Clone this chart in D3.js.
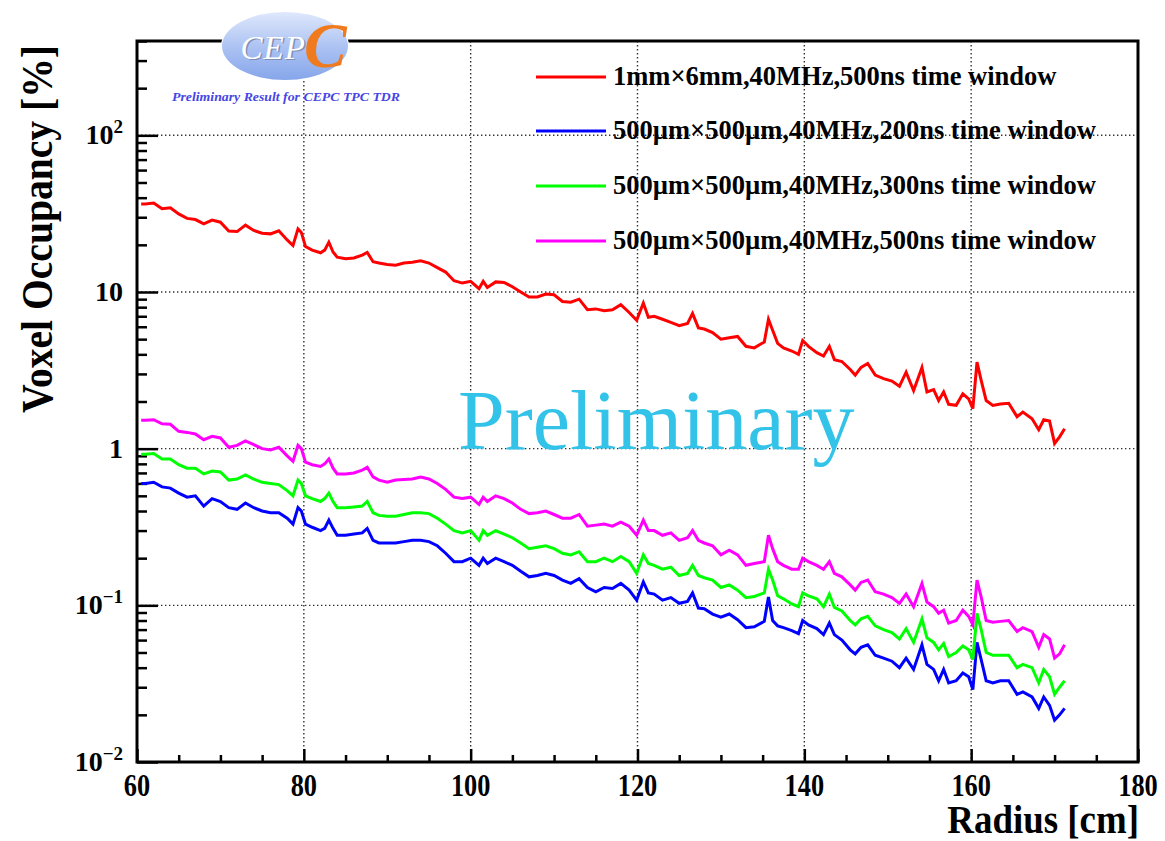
<!DOCTYPE html>
<html>
<head>
<meta charset="utf-8">
<script src="https://cdn.jsdelivr.net/npm/d3@7"></script>
<style>
  body { margin: 0; background: #fff; }
  svg { display: block; }
  text { font-family: "Liberation Serif", "DejaVu Serif", serif; }
</style>
</head>
<body>
<svg id="chart" width="1165" height="841"></svg>
<script>
// radius bins [cm], shared by all four curves
const radius = [60.5,61,62,63,64,65,66,67,68,69,70,71,72,73,74,75,76,77,78,78.7,79.3,79.7,80.2,81,82,82.5,83,83.5,84,85,86,87,87.6,88.3,89,90,91,92,93,94,95,96,97,98,99,100,101,101.5,102,103,104,105,106,107,108,109,110,111,112,113,114,115,116,117,118,119,119.9,120.7,121.3,122,123,124,125,126,126.6,127.3,128,129,130,131,132,133,134,135.2,135.7,136.2,136.8,137.5,138.5,139.3,139.8,140.5,141.5,142.3,143,143.6,144.5,145.5,146.1,146.8,147.6,148.5,149.5,150.5,151.4,152.2,153.1,154.1,154.7,155.5,156.1,156.7,157.3,158.2,159,159.7,160.2,160.7,161.2,161.8,162.6,163.5,164.5,165.5,166.2,167.3,168.1,168.7,169.4,170,170.6,171.2];

// voxel occupancy [%]
const red_1x6_500 = [36.5,36.5,37,34,34.5,31.5,29.5,29,27.2,28.8,27.9,24.5,24.3,26.7,24.7,23.7,23.5,24.6,21.5,19.8,25.3,24,19.5,18.5,17.8,18.5,20.8,18,16.7,16.3,16.5,17.2,17.9,15.6,15.3,15,14.8,15.3,15.5,15.8,15.3,14.3,13.4,11.8,11.4,11.7,10.5,11.7,10.7,11.6,11.5,10.8,10,9.3,9.3,9.7,9.6,8.7,8.6,9.0,7.7,7.8,7.6,7.7,8.3,7.4,6.6,8.5,6.9,7.0,6.7,6.4,6.1,6.3,7.3,5.9,5.8,5.5,5.0,5.1,5.2,4.5,4.4,4.8,6.7,5.7,4.7,4.4,4.2,4.0,4.9,4.5,4.1,3.9,4.5,3.7,3.6,3.2,2.95,3.3,3.5,2.95,2.8,2.7,2.5,3.08,2.35,3.3,2.3,2.38,2.03,2.3,1.92,1.89,2.24,2.08,1.8,3.57,2.73,2.03,1.89,1.93,1.95,1.6,1.71,1.55,1.32,1.53,1.5,1.08,1.19,1.34];
const blue_500_200 = [0.60,0.60,0.61,0.57,0.56,0.52,0.49,0.50,0.43,0.48,0.46,0.42,0.41,0.45,0.42,0.40,0.39,0.39,0.36,0.33,0.42,0.40,0.33,0.315,0.30,0.31,0.35,0.31,0.28,0.28,0.285,0.29,0.31,0.26,0.25,0.25,0.25,0.255,0.26,0.26,0.255,0.24,0.215,0.19,0.19,0.20,0.18,0.20,0.185,0.20,0.19,0.18,0.165,0.152,0.155,0.16,0.155,0.145,0.138,0.148,0.13,0.122,0.13,0.128,0.138,0.125,0.108,0.141,0.12,0.118,0.108,0.112,0.103,0.106,0.12,0.096,0.095,0.088,0.084,0.088,0.081,0.072,0.073,0.079,0.113,0.08,0.074,0.072,0.069,0.066,0.08,0.075,0.071,0.065,0.077,0.065,0.06,0.052,0.049,0.054,0.056,0.048,0.046,0.044,0.040,0.046,0.039,0.056,0.042,0.039,0.033,0.039,0.032,0.033,0.037,0.035,0.029,0.058,0.045,0.033,0.032,0.033,0.033,0.027,0.028,0.026,0.022,0.026,0.023,0.0185,0.020,0.022];
const green_500_300 = [0.92,0.92,0.93,0.86,0.86,0.79,0.75,0.75,0.69,0.72,0.71,0.63,0.64,0.68,0.64,0.61,0.60,0.59,0.54,0.50,0.63,0.60,0.50,0.48,0.46,0.48,0.52,0.46,0.42,0.42,0.425,0.43,0.46,0.39,0.375,0.37,0.37,0.38,0.39,0.39,0.385,0.36,0.33,0.30,0.29,0.30,0.26,0.30,0.28,0.30,0.285,0.27,0.25,0.23,0.235,0.24,0.23,0.215,0.21,0.22,0.19,0.19,0.20,0.19,0.205,0.19,0.16,0.21,0.185,0.18,0.17,0.175,0.155,0.16,0.18,0.155,0.15,0.145,0.13,0.135,0.125,0.112,0.114,0.12,0.17,0.145,0.115,0.11,0.102,0.098,0.12,0.115,0.11,0.098,0.118,0.097,0.092,0.08,0.075,0.082,0.085,0.074,0.07,0.067,0.061,0.071,0.058,0.082,0.062,0.058,0.052,0.057,0.047,0.05,0.055,0.052,0.045,0.089,0.07,0.05,0.048,0.048,0.048,0.04,0.042,0.04,0.032,0.039,0.035,0.027,0.03,0.033];
const magenta_500_500 = [1.52,1.52,1.53,1.44,1.43,1.29,1.27,1.24,1.14,1.2,1.17,1.02,1.05,1.12,1.06,1.0,0.98,1.02,0.9,0.83,1.05,1.0,0.82,0.79,0.77,0.8,0.86,0.75,0.69,0.69,0.70,0.73,0.76,0.66,0.63,0.61,0.63,0.635,0.64,0.66,0.64,0.6,0.55,0.49,0.48,0.49,0.44,0.49,0.46,0.5,0.48,0.45,0.41,0.385,0.39,0.40,0.38,0.36,0.36,0.38,0.32,0.325,0.33,0.32,0.34,0.32,0.28,0.35,0.30,0.30,0.28,0.29,0.26,0.27,0.30,0.26,0.25,0.24,0.21,0.225,0.21,0.18,0.185,0.19,0.28,0.23,0.19,0.18,0.17,0.17,0.20,0.19,0.18,0.17,0.19,0.16,0.152,0.135,0.125,0.14,0.145,0.122,0.118,0.112,0.103,0.118,0.098,0.138,0.105,0.098,0.089,0.093,0.077,0.08,0.093,0.085,0.075,0.145,0.113,0.08,0.078,0.079,0.08,0.068,0.072,0.068,0.054,0.065,0.061,0.046,0.049,0.056];

const seriesNames = [
  "1mm\u00d76mm,40MHz,500ns time window",
  "500\u00b5m\u00d7500\u00b5m,40MHz,200ns time window",
  "500\u00b5m\u00d7500\u00b5m,40MHz,300ns time window",
  "500\u00b5m\u00d7500\u00b5m,40MHz,500ns time window"
];
const seriesColors = ["#ff0000", "#0000ff", "#00ff00", "#ff00ff"];
const seriesValues = [red_1x6_500, blue_500_200, green_500_300, magenta_500_500];

const xMajor = [60, 80, 100, 120, 140, 160, 180];
const yMajor = [0.01, 0.1, 1, 10, 100];
const yLabels = [["10", "\u22122"], ["10", "\u22121"], ["1", ""], ["10", ""], ["10", "2"]];

let svg = d3.select("#chart");

// frame in pixels
const frameL = 137, frameR = 1138, frameT = 41, frameB = 762;

let x = d3.scaleLinear().domain([60, 180]).range([frameL, frameR]);
let y = d3.scaleLog().domain([0.01, 400]).range([frameB, frameT]);

// grid (dotted, only at major ticks)
let grid = svg.append("g").attr("stroke", "#333").attr("stroke-width", 1.4).attr("stroke-dasharray", "1.4,2.6");
grid.selectAll(".vg").data(xMajor.slice(1, -1)).enter().append("line")
    .attr("x1", d => x(d)).attr("x2", d => x(d)).attr("y1", frameT).attr("y2", frameB);
grid.selectAll(".hg").data(yMajor.slice(1)).enter().append("line")
    .attr("x1", frameL).attr("x2", frameR).attr("y1", d => y(d)).attr("y2", d => y(d));

// ticks pointing into the frame
let xMinor = d3.range(60, 181, 5).filter(d => d % 20 != 0);
svg.append("g").attr("transform", `translate(0,${frameB})`)
    .call(d3.axisTop(x).tickValues(xMinor).tickSize(7).tickFormat(""))
    .call(g => g.select(".domain").remove())
    .selectAll("line").attr("stroke-width", 2.5);
svg.append("g").attr("transform", `translate(0,${frameB})`)
    .call(d3.axisTop(x).tickValues(xMajor).tickSize(13).tickFormat(""))
    .call(g => g.select(".domain").remove())
    .selectAll("line").attr("stroke-width", 2.5);

let yMinor = [];
[0.01, 0.1, 1, 10, 100].forEach(dec => d3.range(2, 10).forEach(k => { if (dec * k <= 400) yMinor.push(dec * k); }));
svg.append("g").attr("transform", `translate(${frameL},0)`)
    .call(d3.axisRight(y).tickValues(yMinor).tickSize(10).tickFormat(""))
    .call(g => g.select(".domain").remove())
    .selectAll("line").attr("stroke-width", 2.5);
svg.append("g").attr("transform", `translate(${frameL},0)`)
    .call(d3.axisRight(y).tickValues(yMajor).tickSize(21).tickFormat(""))
    .call(g => g.select(".domain").remove())
    .selectAll("line").attr("stroke-width", 2.5);

// curves
let line = d3.line().x((d, i) => x(radius[i])).y(d => y(d));
svg.append("g").selectAll("path").data(seriesValues).enter().append("path")
    .attr("d", d => line(d))
    .attr("fill", "none")
    .attr("stroke", (d, i) => seriesColors[i])
    .attr("stroke-width", 3)
    .attr("stroke-linejoin", "miter");

// frame
svg.append("rect")
    .attr("x", frameL).attr("y", frameT).attr("width", frameR - frameL).attr("height", frameB - frameT)
    .attr("fill", "none").attr("stroke", "#000").attr("stroke-width", 3);

// x tick labels (narrow, tall glyphs as in the original)
svg.append("g").selectAll("text").data(xMajor).enter().append("text")
    .attr("transform", d => `translate(${x(d)},796) scale(0.85,1)`)
    .attr("text-anchor", "middle")
    .attr("font-size", 31).attr("font-weight", "bold")
    .text(d => d);

// y tick labels
let yl = svg.append("g").selectAll("text").data(yMajor).enter().append("text")
    .attr("x", 123).attr("y", d => y(d) + 9)
    .attr("text-anchor", "end")
    .attr("font-size", 28).attr("font-weight", "bold");
yl.append("tspan").text((d, i) => yLabels[i][0]);
yl.append("tspan").attr("dy", -11).attr("font-size", 19).text((d, i) => yLabels[i][1]);

// axis titles
svg.append("text")
    .attr("transform", "translate(1139,833) scale(0.9,1)")
    .attr("text-anchor", "end")
    .attr("font-size", 41).attr("font-weight", "bold")
    .text("Radius [cm]");
svg.append("text")
    .attr("transform", "translate(52,45) rotate(-90) scale(0.9,1)")
    .attr("text-anchor", "end")
    .attr("font-size", 44).attr("font-weight", "bold")
    .text("Voxel Occupancy [%]");

// legend (no box)
const legY = [77, 131, 186, 241];
let leg = svg.append("g").selectAll("g").data(seriesNames).enter().append("g")
    .attr("transform", (d, i) => `translate(0,${legY[i]})`);
leg.append("line").attr("x1", 536).attr("x2", 606).attr("y1", 0).attr("y2", 0)
    .attr("stroke", (d, i) => seriesColors[i]).attr("stroke-width", 2.8);
leg.append("text").attr("x", 613).attr("y", 8)
    .attr("font-size", 26.5).attr("font-weight", "bold")
    .text(d => d);

// watermark
svg.append("text")
    .attr("x", 458).attr("y", 449)
    .attr("font-size", 84).attr("fill", "#33c3e8")
    .text("Preliminary");

// CEPC logo
let defs = svg.append("defs");
let grad = defs.append("linearGradient").attr("id", "logoGrad").attr("x1", 0).attr("x2", 0).attr("y1", 0).attr("y2", 1);
grad.append("stop").attr("offset", "0%").attr("stop-color", "#dfe8fc");
grad.append("stop").attr("offset", "55%").attr("stop-color", "#a9c0f2");
grad.append("stop").attr("offset", "100%").attr("stop-color", "#86a6ea");
let logo = svg.append("g");
logo.append("ellipse").attr("cx", 285).attr("cy", 46).attr("rx", 64).attr("ry", 35).attr("fill", "#fff");
logo.append("ellipse").attr("cx", 285).attr("cy", 46).attr("rx", 63).attr("ry", 34).attr("fill", "url(#logoGrad)");
logo.append("text").attr("x", 242).attr("y", 60)
    .attr("font-size", 33).attr("font-style", "italic").attr("letter-spacing", 1).attr("fill", "#7f8fb5")
    .text("CEP");
logo.append("text").attr("x", 240.5).attr("y", 58.5)
    .attr("font-size", 33).attr("font-style", "italic").attr("letter-spacing", 1).attr("fill", "#fff")
    .text("CEP");
logo.append("text").attr("x", 304).attr("y", 67)
    .attr("font-size", 64).attr("font-style", "italic").attr("font-weight", "bold").attr("fill", "#f07a1e")
    .text("C");
logo.append("text").attr("x", 172).attr("y", 101)
    .attr("font-size", 12.5).attr("font-style", "italic").attr("font-weight", "bold")
    .attr("fill", "#4646e4").attr("textLength", 228).attr("lengthAdjust", "spacingAndGlyphs")
    .text("Preliminary Result for CEPC TPC TDR");
</script>
</body>
</html>
